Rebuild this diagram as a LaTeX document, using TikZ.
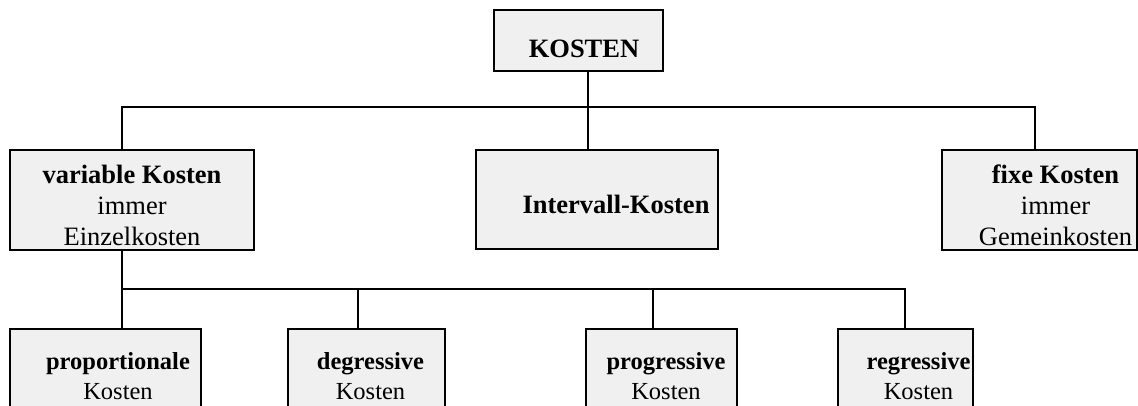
\documentclass[tikz,border=0pt]{standalone}
\usepackage{fontspec}
\setmainfont{Liberation Serif}
\usetikzlibrary{calc}
\tikzset{
  box/.style={draw=black,line width=2.3pt,fill=black!6,inner sep=0pt},
  conn/.style={line width=2pt},
  upper/.style={font=\fontsize{26.5}{31}\selectfont,align=center},
  lower/.style={font=\fontsize{24.5}{30}\selectfont,align=center}
}
\begin{document}
\begin{tikzpicture}[x=1pt,y=-1pt]
\useasboundingbox (0,0) rectangle (1138,405);
\clip (0,0) rectangle (1138,405);
\node[box,minimum width=169pt,minimum height=61pt,label={[upper,xshift=5.5pt,yshift=-8pt]center:\textbf{KOSTEN}}] (kosten) at (578.5,40.5) {};
\node[box,minimum width=244pt,minimum height=100pt,label={[upper,yshift=-5pt]center:{\textbf{variable Kosten}\\immer\\Einzelkosten}}] (var) at (132,200) {};
\node[box,minimum width=242pt,minimum height=99pt,label={[upper,xshift=19pt,yshift=-4.5pt]center:\textbf{Intervall-Kosten}}] (mid) at (597,199.5) {};
\node[box,minimum width=195pt,minimum height=100pt,label={[upper,xshift=16pt,yshift=-5pt]center:{\textbf{fixe Kosten}\\immer\\Gemeinkosten}}] (fix) at (1039.5,200) {};
\node[box,minimum width=191pt,minimum height=94pt,label={[lower,xshift=12.5pt]center:{\textbf{proportionale}\\Kosten}}] (prop) at (105.5,376) {};
\node[box,minimum width=157pt,minimum height=94pt,label={[lower,xshift=4pt]center:{\textbf{degressive}\\Kosten}}] (degr) at (366.5,376) {};
\node[box,minimum width=151pt,minimum height=94pt,label={[lower,xshift=4.5pt]center:{\textbf{progressive}\\Kosten}}] (progr) at (661.5,376) {};
\node[box,minimum width=135pt,minimum height=94pt,label={[lower,xshift=13pt]center:{\textbf{regressive}\\Kosten}}] (regr) at (905.5,376) {};
\coordinate (busL) at (122,107);
\coordinate (busM) at (588,107);
\coordinate (busR) at (1035,107);
\coordinate (subL) at (122,289);
\coordinate (subD) at (358,289);
\coordinate (subP) at (653,289);
\coordinate (subR) at (905,289);
\draw[conn] (kosten.south -| busM) -- (busM);
\draw[conn] (var.north -| busL) -- (busL) -- (busR) -- (fix.north -| busR);
\draw[conn] (busM) -- (mid.north -| busM);
\draw[conn] (var.south -| subL) -- (subL) -- (subR) -- (regr.north -| subR);
\draw[conn] (subL) -- (prop.north -| subL);
\draw[conn] (subD) -- (degr.north -| subD);
\draw[conn] (subP) -- (progr.north -| subP);
\end{tikzpicture}
\end{document}
